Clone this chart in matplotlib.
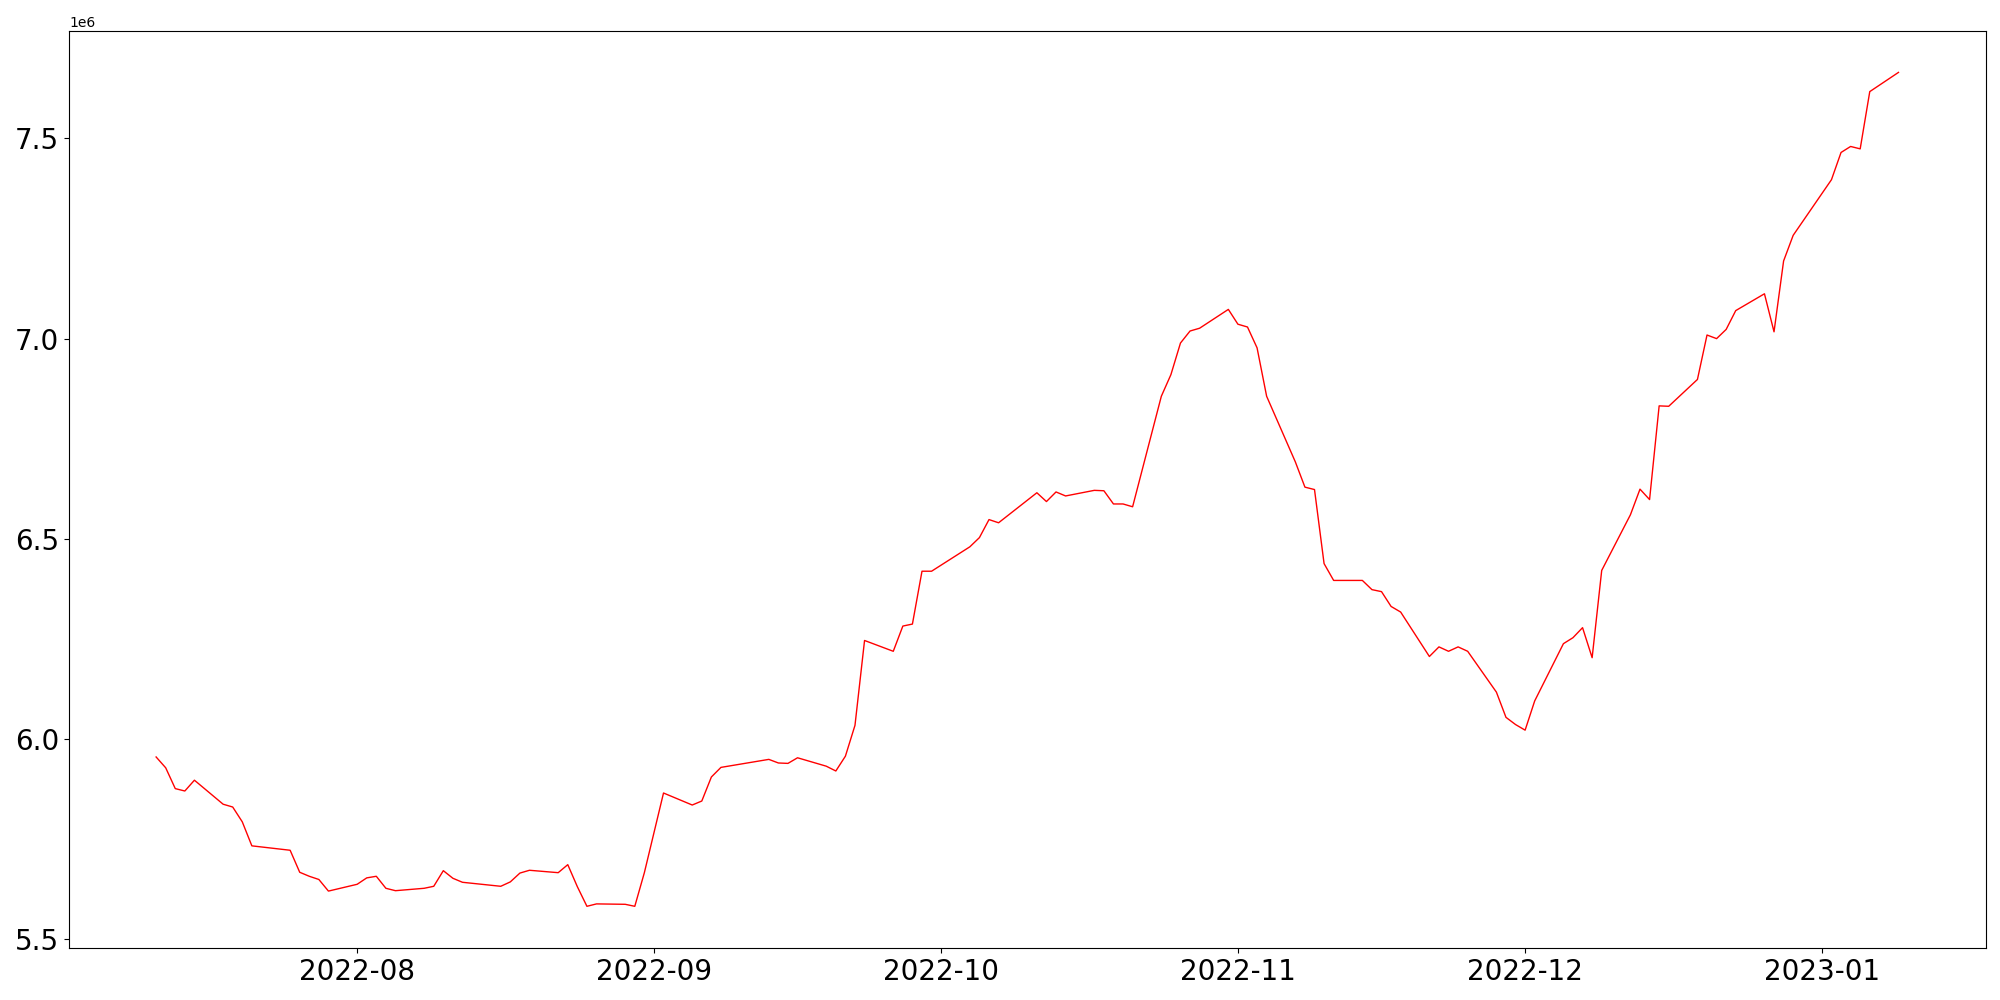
import matplotlib
matplotlib.use("Agg")
import matplotlib.pyplot as plt
import pandas as pd

dates = [
    "2022-07-11", "2022-07-12", "2022-07-13", "2022-07-14", "2022-07-15",
    "2022-07-18", "2022-07-19", "2022-07-20", "2022-07-21", "2022-07-25",
    "2022-07-26", "2022-07-27", "2022-07-28", "2022-07-29",
    "2022-08-01", "2022-08-02", "2022-08-03", "2022-08-04", "2022-08-05",
    "2022-08-08", "2022-08-09", "2022-08-10", "2022-08-11", "2022-08-12",
    "2022-08-16", "2022-08-17", "2022-08-18", "2022-08-19",
    "2022-08-22", "2022-08-23", "2022-08-24", "2022-08-25", "2022-08-26",
    "2022-08-29", "2022-08-30", "2022-08-31", "2022-09-02",
    "2022-09-05", "2022-09-06", "2022-09-07", "2022-09-08",
    "2022-09-13", "2022-09-14", "2022-09-15", "2022-09-16",
    "2022-09-19", "2022-09-20", "2022-09-21", "2022-09-22", "2022-09-23",
    "2022-09-26", "2022-09-27", "2022-09-28", "2022-09-29", "2022-09-30",
    "2022-10-04", "2022-10-05", "2022-10-06", "2022-10-07",
    "2022-10-11", "2022-10-12", "2022-10-13", "2022-10-14",
    "2022-10-17", "2022-10-18", "2022-10-19", "2022-10-20", "2022-10-21",
    "2022-10-24", "2022-10-25", "2022-10-26", "2022-10-27", "2022-10-28",
    "2022-10-31", "2022-11-01", "2022-11-02", "2022-11-03", "2022-11-04",
    "2022-11-07", "2022-11-08", "2022-11-09", "2022-11-10", "2022-11-11",
    "2022-11-14", "2022-11-15", "2022-11-16", "2022-11-17", "2022-11-18",
    "2022-11-21", "2022-11-22", "2022-11-23", "2022-11-24", "2022-11-25",
    "2022-11-28", "2022-11-29", "2022-11-30", "2022-12-01", "2022-12-02",
    "2022-12-05", "2022-12-06", "2022-12-07", "2022-12-08", "2022-12-09",
    "2022-12-12", "2022-12-13", "2022-12-14", "2022-12-15", "2022-12-16",
    "2022-12-19", "2022-12-20", "2022-12-21", "2022-12-22", "2022-12-23",
    "2022-12-26", "2022-12-27", "2022-12-28", "2022-12-29",
    "2023-01-02", "2023-01-03", "2023-01-04", "2023-01-05", "2023-01-06",
    "2023-01-09",
]

# values in millions
values = [
    5.955, 5.928, 5.876, 5.870, 5.897,
    5.837, 5.830, 5.793, 5.733, 5.722,
    5.667, 5.657, 5.649, 5.620,
    5.637, 5.653, 5.657, 5.627, 5.621,
    5.627, 5.632, 5.671, 5.652, 5.642,
    5.632, 5.643, 5.665, 5.672,
    5.666, 5.686, 5.631, 5.582, 5.588,
    5.587, 5.582, 5.666, 5.865,
    5.835, 5.845, 5.905, 5.929,
    5.949, 5.940, 5.939, 5.953,
    5.932, 5.920, 5.957, 6.034, 6.246,
    6.219, 6.282, 6.287, 6.419, 6.419,
    6.480, 6.503, 6.548, 6.540,
    6.615, 6.593, 6.617, 6.607,
    6.621, 6.620, 6.587, 6.587, 6.580,
    6.856, 6.910, 6.989, 7.019, 7.026,
    7.073, 7.036, 7.029, 6.977, 6.856,
    6.692, 6.629, 6.623, 6.438, 6.396,
    6.396, 6.373, 6.368, 6.331, 6.317,
    6.206, 6.230, 6.219, 6.230, 6.219,
    6.117, 6.054, 6.036, 6.022, 6.095,
    6.238, 6.253, 6.278, 6.203, 6.421,
    6.560, 6.624, 6.598, 6.832, 6.831,
    6.898, 7.009, 7.000, 7.023, 7.070,
    7.112, 7.017, 7.194, 7.258,
    7.397, 7.465, 7.480, 7.474, 7.617,
    7.665,
]

series = pd.Series([v * 1e6 for v in values], index=pd.to_datetime(dates))

plt.figure(figsize=(20, 10), dpi=100)
plt.plot(series.index, series.values, color="red", linewidth=1)
plt.xticks(fontsize=20)
plt.yticks(fontsize=20)
plt.subplots_adjust(left=0.0345, right=0.9928, bottom=0.052, top=0.9693)
plt.savefig("out.png", dpi=100)
